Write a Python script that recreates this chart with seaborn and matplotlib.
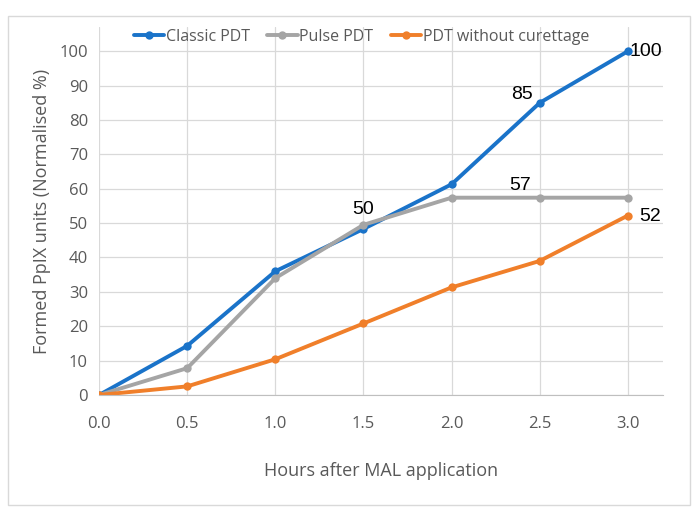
import matplotlib
matplotlib.use("Agg")
import matplotlib.pyplot as plt
import seaborn as sns
import pandas as pd
from matplotlib.patches import Rectangle

hours = [0.0, 0.5, 1.0, 1.5, 2.0, 2.5, 3.0]
classic_pdt = [0, 14.3, 36.0, 48.3, 61.3, 85.0, 100.0]
pulse_pdt = [0, 7.8, 34.0, 49.5, 57.4, 57.4, 57.4]
no_curettage = [0, 2.5, 10.4, 20.8, 31.3, 39.0, 52.2]
series_names = ["Classic PDT", "Pulse PDT", "PDT without curettage"]
colors = ["#1a73c9", "#a5a5a5", "#f07f2a"]

df = pd.DataFrame({
    "hours": hours * 3,
    "value": classic_pdt + pulse_pdt + no_curettage,
    "series": [s for s in series_names for _ in hours],
})

sns.set_style("white")
plt.rcParams["font.family"] = ["Open Sans", "DejaVu Sans"]

fig = plt.figure(figsize=(6.98, 5.18), dpi=100)
ax = fig.add_axes([0.142, 0.2375, 0.808, 0.71])

sns.lineplot(data=df, x="hours", y="value", hue="series", palette=colors,
             hue_order=series_names, marker="o", markersize=6, markeredgewidth=0,
             linewidth=2.8, ax=ax)

ax.set_xlim(0, 3.2)
ax.set_ylim(0, 107)
ax.set_xticks(hours)
ax.set_xticklabels([f"{h:.1f}" for h in hours])
ax.set_yticks(range(0, 101, 10))
ax.grid(True, color="#d9d9d9", linewidth=0.9)
ax.set_axisbelow(True)
for s in ["top", "right", "left"]:
    ax.spines[s].set_visible(False)
ax.spines["bottom"].set_color("#bfbfbf")
ax.tick_params(axis="both", colors="#595959", labelsize=12, length=0, pad=8)
ax.tick_params(axis="x", length=5, color="#d9d9d9", direction="out", pad=10)
ax.set_xlabel("Hours after MAL application", fontsize=13, color="#595959", labelpad=22)
ax.set_ylabel("Formed PpIX units (Normalised %)", fontsize=13, color="#595959", labelpad=6)

lbl = dict(fontsize=14, color="black", family=["Liberation Sans", "DejaVu Sans"])
ax.annotate("50", (1.5, pulse_pdt[3]), xytext=(0, 5), textcoords="offset points", ha="center", va="bottom", **lbl)
ax.annotate("57", (2.5, pulse_pdt[5]), xytext=(-14, 3), textcoords="offset points", ha="center", va="bottom", **lbl)
ax.annotate("85", (2.5, classic_pdt[5]), xytext=(-5, 0), textcoords="offset points", ha="right", va="bottom", **lbl)
ax.annotate("100", (3.0, classic_pdt[6]), xytext=(1, 0), textcoords="offset points", ha="left", va="center", **lbl)
ax.annotate("52", (3.0, no_curettage[6]), xytext=(8, -1), textcoords="offset points", ha="left", va="center", **lbl)

leg = ax.legend(loc="upper center", bbox_to_anchor=(0.465, 1.035), ncol=3, frameon=False,
                fontsize=11.5, handlelength=1.9, handletextpad=0.1, columnspacing=1.1)
for t in leg.get_texts():
    t.set_color("#595959")

fig.patches.append(Rectangle((0.012, 0.025), 0.976, 0.945, transform=fig.transFigure,
                             fill=False, edgecolor="#d9d9d9", linewidth=1))

fig.savefig("out.png", dpi=100)
